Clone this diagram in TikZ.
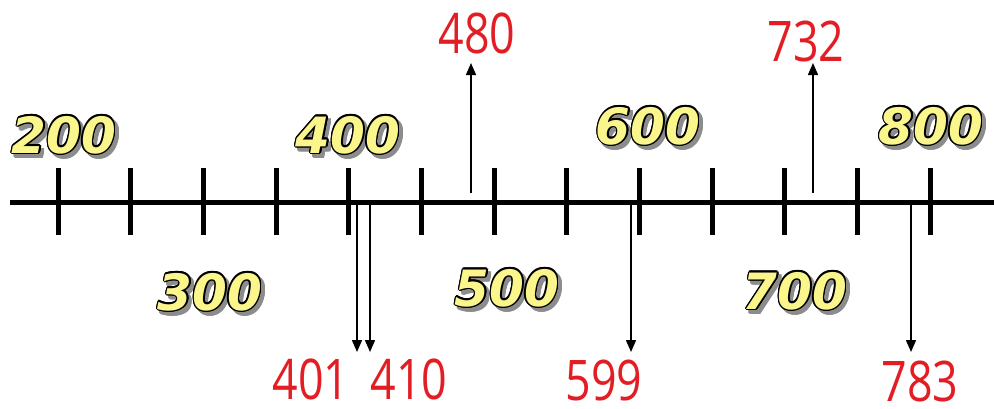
\documentclass[tikz,border=0pt]{standalone}
\usepackage{fontspec}
\usetikzlibrary{arrows.meta}
\newfontfamily\yfont{DejaVu Sans}
\newfontfamily\rfont{Open Sans}
\definecolor{yellowfill}{RGB}{250,246,140}
\definecolor{redtxt}{RGB}{226,30,36}
\definecolor{shadowgray}{RGB}{140,140,140}
\tikzset{
  ylab/.style={inner sep=0pt, font=\yfont\bfseries\itshape\fontsize{50}{50}\selectfont},
  rlab/.style={inner sep=0pt, text=redtxt, font=\rfont\fontsize{56}{56}\selectfont},
  axis/.style={line width=5pt},
  tick/.style={line width=5pt},
  pointer/.style={line width=1.5pt, -{Triangle[length=12pt,width=10pt]}}
}
\newcommand\numlabel[3]{%
  \foreach \a in {0,30,...,330}{\path (#2) ++(3.5,3.5) ++(\a:1.6) node[ylab,text=shadowgray]{#3};}
  \foreach \a in {0,30,...,330}{\path (#2) ++(\a:1.5) node[ylab,text=black]{#3};}
  \node[ylab,text=yellowfill] (#1) at (#2) {#3};
}
\newcommand\rtext[1]{\scalebox{0.8}[1]{#1}}
\begin{document}
\begin{tikzpicture}[x=1pt,y=-1pt]
\useasboundingbox (0,0) rectangle (994,408);
% axis
\coordinate (axL) at (10,202);
\coordinate (axR) at (994,202);
\draw[axis] (axL) -- (axR);
\foreach \i in {0,...,12}{
  \coordinate (t\i a) at ({58+72.67*\i},168);
  \coordinate (t\i b) at ({58+72.67*\i},235);
  \draw[tick] (t\i a) -- (t\i b);
}
% yellow labels
\numlabel{l200}{64,135}{200}
\numlabel{l400}{348,135}{400}
\numlabel{l600}{648,126}{600}
\numlabel{l800}{931,126}{800}
\numlabel{l300}{210,292}{300}
\numlabel{l500}{507,288}{500}
\numlabel{l700}{795,291}{700}
% red labels
\node[rlab] (r480) at (477,33) {\rtext{480}};
\node[rlab] (r732) at (806,41) {\rtext{732}};
\node[rlab] (r401) at (311,379) {\rtext{401}};
\node[rlab] (r410) at (409,379) {\rtext{410}};
\node[rlab] (r599) at (604,380) {\rtext{599}};
\node[rlab] (r783) at (920,381) {\rtext{783}};
% arrows
\coordinate (s480) at (471,193); \coordinate (e480) at (471,63);
\coordinate (s732) at (813,193); \coordinate (e732) at (813,63);
\coordinate (s401) at (357,205); \coordinate (e401) at (357,352);
\coordinate (s410) at (370,205); \coordinate (e410) at (370,352);
\coordinate (s599) at (631,205); \coordinate (e599) at (631,352);
\coordinate (s783) at (911,205); \coordinate (e783) at (911,352);
\foreach \n in {480,732,401,410,599,783}{\draw[pointer] (s\n) -- (e\n);}
\end{tikzpicture}
\end{document}
